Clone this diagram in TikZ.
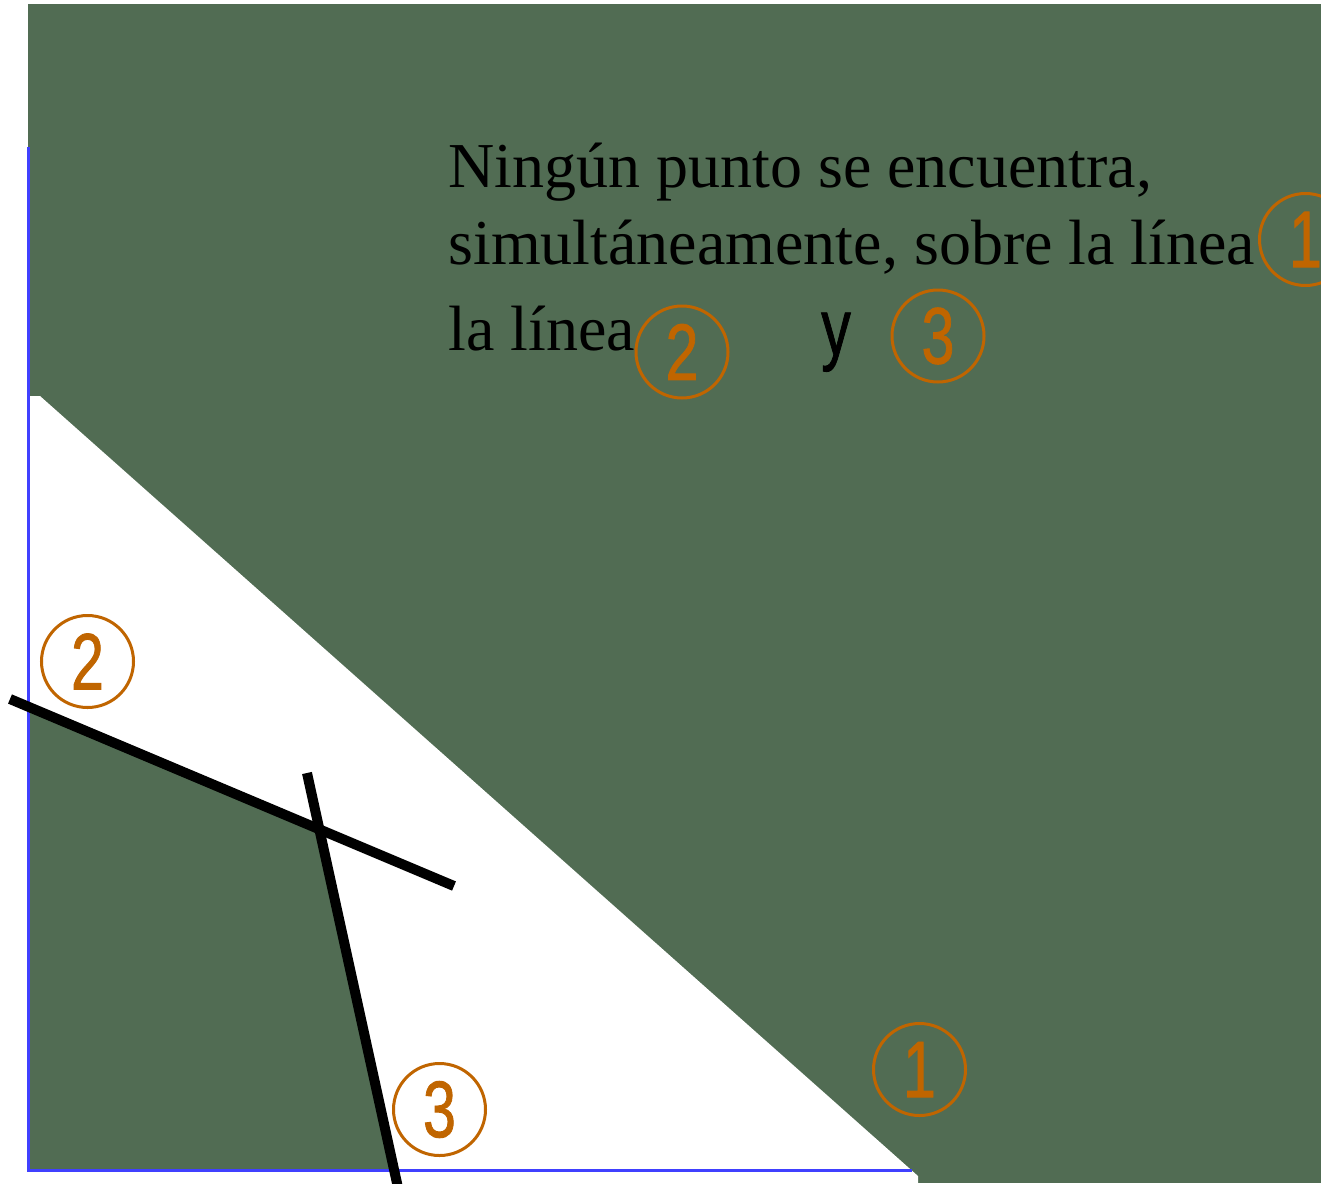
\documentclass[tikz,border=0pt]{standalone}
\usepackage{fontspec}
\setmainfont{Liberation Serif}
\newfontfamily\numfont[FakeBold=1.2]{Liberation Sans}
\usepackage{graphicx}
\definecolor{field}{RGB}{81,108,83}
\definecolor{tag}{RGB}{192,101,0}
\definecolor{axis}{RGB}{64,64,255}
\newcommand{\slim}[1]{\scalebox{0.74}[1]{#1}}

\begin{document}
\begin{tikzpicture}[x=0.5pt,y=-0.5pt,
  num/.style={circle,draw=tag,line width=1.5pt,minimum size=46pt,inner sep=0pt,text=tag,font=\numfont\fontsize{40}{48}\selectfont},
  txt/.style={anchor=base west,inner sep=0pt,font=\fontsize{32}{38}\selectfont,text=black},
  cut/.style={line width=5pt,black}]
  \useasboundingbox (0,0) rectangle (1321,1183);
  \clip (0,0) rectangle (1321,1183);
  \fill[field] (28,4) rectangle (1321,1183);
  \fill[white] (27,396) -- (40,396) -- (918,1176) -- (918,1183) -- (27,1183) -- cycle;
  \coordinate (l2a) at (10,699); \coordinate (l2b) at (454,886);
  \coordinate (l3a) at (307,773); \coordinate (l3b) at (398.5,1190);
  \coordinate (cross) at (intersection of l2a--l2b and l3a--l3b);
  \fill[field] (30,707.4) -- (cross) -- (394,1170) -- (30,1170) -- cycle;
  \draw[axis,line width=1.5pt] (28.5,147) -- (28.5,1170.5) -- (912,1170.5);
  \draw[cut] (l2a) -- (l2b);
  \draw[cut] (l3a) -- (l3b);
  \node[num] (c1) at (919.5,1069.5) {\slim{1}};
  \node[num] (c2) at (87.5,661.5) {\slim{2}};
  \node[num] (c3) at (439.5,1109.5) {\slim{3}};
  \node[txt] (l1) at (448,187) {Ningún punto se encuentra,};
  \node[txt] (l2) at (448,264) {simultáneamente, sobre la línea};
  \node[txt] (l3) at (448,350) {la línea};
  \node[num] (t1) at (1305.5,239.5) {\slim{1}};
  \node[num] (t2) at (682,352) {\slim{2}};
  \node[anchor=base,inner sep=0pt,font=\numfont\fontsize{40}{48}\selectfont] (yy) at (836,355) {\slim{y}};
  \node[num] (t3) at (938,336) {\slim{3}};
\end{tikzpicture}
\end{document}
